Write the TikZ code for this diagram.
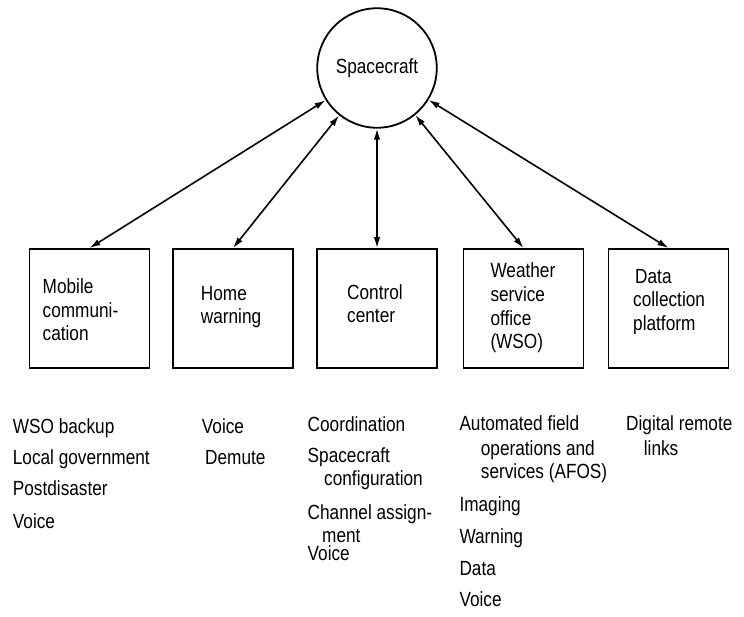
\documentclass[tikz,border=0pt]{standalone}
\usepackage{fontspec}
\setmainfont{Liberation Sans}[FakeStretch=0.84]
\usetikzlibrary{arrows.meta}
\begin{document}
\begin{tikzpicture}[x=1pt,y=-1pt,
  every node/.style={font=\fontsize{20.5}{24}\selectfont},
  txt/.style={anchor=base west,inner sep=0pt},
  box/.style={draw,line width=1.8pt,minimum width=120pt,minimum height=119pt,inner sep=0pt},
  link/.style={line width=1.6pt,{Latex[length=11pt,width=6.5pt]}-{Latex[length=11pt,width=6.5pt]}}]
\useasboundingbox (0,0) rectangle (744,616);
% spacecraft
\node[draw,circle,line width=1.8pt,minimum size=119.5pt,inner sep=0pt] (sc) at (377,68) {Spacecraft};
% boxes
\node[box] (b1) at (89.5,308.5) {};
\node[box] (b2) at (233,308.5) {};
\node[box] (b3) at (377,308.5) {};
\node[box] (b4) at (523.5,308.5) {};
\node[box] (b5) at (668.5,308.5) {};
% connectors
\draw[link] (sc) -- (b1.north);
\draw[link] (sc) -- (b2.north);
\draw[link] (sc.south) -- (b3.north);
\draw[link] (sc) -- (b4.north);
\draw[link] (sc) -- (b5.north);
% box labels
\node[txt] (t1a) at (42.5,293) {Mobile};
\node[txt] (t1b) at (42.5,317) {communi-};
\node[txt] (t1c) at (42.5,340) {cation};
\node[txt] (t2a) at (200.7,300) {Home};
\node[txt] (t2b) at (200.7,323) {warning};
\node[txt] (t3a) at (347,299) {Control};
\node[txt] (t3b) at (347,322) {center};
\node[txt] (t4a) at (490.3,277) {Weather};
\node[txt] (t4b) at (490.3,301.5) {service};
\node[txt] (t4c) at (490.3,325) {office};
\node[txt] (t4d) at (490.3,348) {(WSO)};
\node[txt] (t5a) at (635,283) {Data};
\node[txt] (t5b) at (633,306.7) {collection};
\node[txt] (t5c) at (633,330) {platform};
% column 1
\node[txt] (c1a) at (12.7,433) {WSO backup};
\node[txt] (c1b) at (12.7,464) {Local government};
\node[txt] (c1c) at (12.7,495.5) {Postdisaster};
\node[txt] (c1d) at (12.7,528) {Voice};
% column 2
\node[txt] (c2a) at (201.7,433) {Voice};
\node[txt] (c2b) at (205,464) {Demute};
% column 3
\node[txt] (c3a) at (307.5,431) {Coordination};
\node[txt] (c3b) at (307.5,462) {Spacecraft};
\node[txt] (c3c) at (324,485.5) {configuration};
\node[txt] (c3d) at (307.5,519) {Channel assign-};
\node[txt] (c3e) at (322,542) {ment};
\node[txt] (c3f) at (307.5,560) {Voice};
% column 4
\node[txt] (c4a) at (459.3,430) {Automated field};
\node[txt] (c4b) at (480.7,455) {operations and};
\node[txt] (c4c) at (480.7,478.5) {services (AFOS)};
\node[txt] (c4d) at (459.3,511.5) {Imaging};
\node[txt] (c4e) at (459.3,543.3) {Warning};
\node[txt] (c4f) at (459.3,575) {Data};
\node[txt] (c4g) at (459.3,606.5) {Voice};
% column 5
\node[txt] (c5a) at (626,430) {Digital remote};
\node[txt] (c5b) at (643.7,455) {links};
\end{tikzpicture}
\end{document}
